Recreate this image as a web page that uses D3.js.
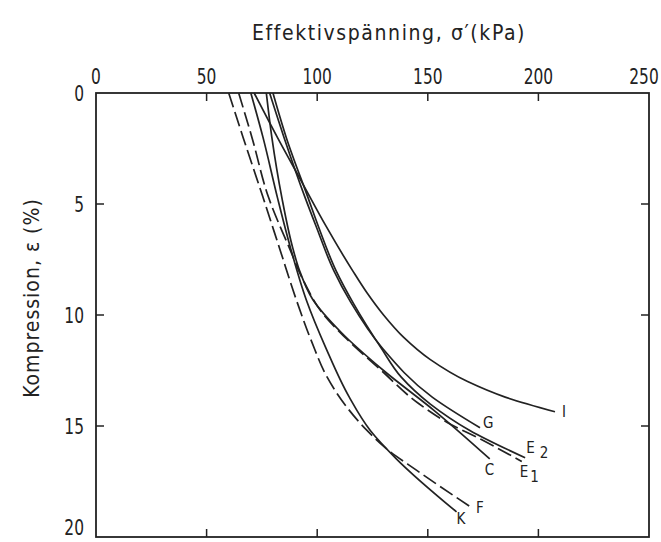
<!DOCTYPE html>
<html>
<head>
<meta charset="utf-8">
<script src="https://cdn.jsdelivr.net/npm/d3@7"></script>
<style>
  body { margin: 0; background: #fff; }
  text { font-family: "DejaVu Sans Condensed", "DejaVu Sans", sans-serif; fill: #222; }
</style>
</head>
<body>
<svg width="661" height="542"></svg>
<script>
// effective stress (kPa) vs compression (%)
var xTicks = [0, 50, 100, 150, 200, 250];
var yTicks = [0, 5, 10, 15, 20];

var names = ["F", "E1", "K", "C", "I", "G", "E2"];
var dashedSeries = ["F", "E1"];

// each point: [compression %, stress kPa]
var curveF  = [[0,60],[2,66.5],[4.7,75.5],[7,83],[9.3,90.5],[11.2,97.5],[12.8,104.5],[14.1,113],[15.2,122.5],[16,131],[17,145],[18.69,170]];
var curveE1 = [[0,64.5],[2,70.5],[4.7,78],[7,87.5],[8.5,94],[10,103],[11,112.5],[12.5,129],[14,146],[14.85,159],[15.6,174],[16.6,192.5]];
var curveK  = [[0,70],[2,75.5],[4.7,82],[7,88],[9.3,95],[11.5,104],[13.7,114.5],[15.2,124],[16.5,136],[18.87,163]];
var curveC  = [[0,77],[2,79.5],[4.7,84],[7,89],[8,92],[9.3,98],[10.8,111],[12.5,130],[14.27,152.5],[16.48,178]];
var curveI  = [[0,71.5],[2,82],[4,93],[6,104],[8,116],[9,122.5],[10,130],[11,139],[12,151],[13,168],[13.7,185],[14.36,207.5]];
var curveG  = [[0,78.5],[2,85],[4.7,94.5],[6,99.5],[8,107.5],[9.4,115],[11.5,129.5],[13.7,152],[15.08,173.6]];
var curveE2 = [[0,80],[2,86],[4.7,95.8],[6,100.5],[8,108.5],[9.5,116.5],[11.5,129],[12.8,138],[14,151],[15.2,169],[16.43,194]];

var curves = [curveF, curveE1, curveK, curveC, curveI, curveG, curveE2];

var svg = d3.select("svg");

var x = d3.scaleLinear().domain([0, 250]).range([96, 649]);
var y = d3.scaleLinear().domain([0, 20]).range([93, 537]);

// frame
svg.append("rect")
    .attr("x", x(0))
    .attr("y", y(0))
    .attr("width", x(250) - x(0))
    .attr("height", y(20) - y(0))
    .attr("fill", "none")
    .attr("stroke", "#222")
    .attr("stroke-width", 1.8);

var tk = 8;
var innerX = xTicks.slice(1, -1);
var innerY = yTicks.slice(1, -1);

// ticks pointing inward on all four sides
svg.append("g").selectAll("line")
    .data(innerX).enter().append("line")
    .attr("x1", function(d) { return x(d); })
    .attr("x2", function(d) { return x(d); })
    .attr("y1", y(0))
    .attr("y2", y(0) + tk)
    .attr("stroke", "#222").attr("stroke-width", 1.5);

svg.append("g").selectAll("line")
    .data(innerX).enter().append("line")
    .attr("x1", function(d) { return x(d); })
    .attr("x2", function(d) { return x(d); })
    .attr("y1", y(20))
    .attr("y2", y(20) - tk)
    .attr("stroke", "#222").attr("stroke-width", 1.5);

svg.append("g").selectAll("line")
    .data(innerY).enter().append("line")
    .attr("x1", x(0))
    .attr("x2", x(0) + tk)
    .attr("y1", function(d) { return y(d); })
    .attr("y2", function(d) { return y(d); })
    .attr("stroke", "#222").attr("stroke-width", 1.5);

svg.append("g").selectAll("line")
    .data(innerY).enter().append("line")
    .attr("x1", x(250))
    .attr("x2", x(250) - tk)
    .attr("y1", function(d) { return y(d); })
    .attr("y2", function(d) { return y(d); })
    .attr("stroke", "#222").attr("stroke-width", 1.5);

// tick labels (narrow, tall glyphs like the original lettering)
svg.append("g").selectAll("text")
    .data(xTicks).enter().append("text")
    .attr("transform", function(d) {
        // keep the last label inside the page
        return "translate(" + Math.min(x(d), 644) + ",84) scale(0.78,1)";
    })
    .attr("text-anchor", "middle")
    .attr("font-size", 22)
    .text(function(d) { return d; });

svg.append("g").selectAll("text")
    .data(yTicks).enter().append("text")
    .attr("transform", function(d) {
        return "translate(84," + Math.min(y(d) + 8, 535) + ") scale(0.78,1)";
    })
    .attr("text-anchor", "end")
    .attr("font-size", 22)
    .text(function(d) { return d; });

// axis titles
svg.append("text")
    .attr("x", 389)
    .attr("y", 40)
    .attr("text-anchor", "middle")
    .attr("font-size", 21)
    .attr("letter-spacing", 1.6)
    .text("Effektivspänning, σ′(kPa)");

svg.append("text")
    .attr("transform", "translate(39,298) rotate(-90)")
    .attr("text-anchor", "middle")
    .attr("font-size", 21)
    .attr("letter-spacing", 1)
    .text("Kompression, ε (%)");

// curves
var line = d3.line()
    .x(function(d) { return x(d[1]); })
    .y(function(d) { return y(d[0]); })
    .curve(d3.curveMonotoneY);

svg.append("g").selectAll("path")
    .data(curves).enter().append("path")
    .attr("d", line)
    .attr("fill", "none")
    .attr("stroke", "#222")
    .attr("stroke-width", 1.7)
    .attr("stroke-dasharray", function(d, i) {
        return dashedSeries.indexOf(names[i]) >= 0 ? "15,5" : null;
    });

// end labels, offset in px from the last point of each curve
var labelOffset = {
    "F": [4, 5], "E1": [-2, 15], "K": [0, 12], "C": [-5, 16],
    "I": [7, 5], "G": [3, 0], "E2": [1, -5]
};

curves.forEach(function(c, i) {
    var last = c[c.length - 1];
    var n = names[i];
    var off = labelOffset[n];
    var t = svg.append("text")
        .attr("x", x(last[1]) + off[0])
        .attr("y", y(last[0]) + off[1])
        .attr("font-size", 15);
    t.append("tspan").text(n.charAt(0));
    if (n.length > 1) {
        t.append("tspan")
            .attr("dx", n == "E2" ? 5 : 2)
            .attr("dy", 5)
            .text(n.slice(1));
    }
});
</script>
</body>
</html>
